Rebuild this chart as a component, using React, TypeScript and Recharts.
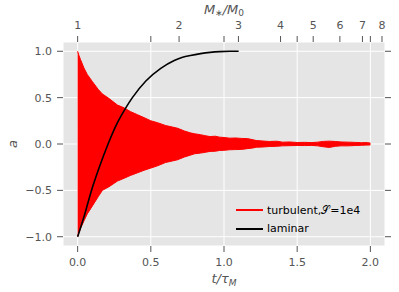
import React from 'react';
import { ComposedChart, Area, Line, XAxis, YAxis, CartesianGrid, Legend, Label } from 'recharts';

// turbulent run, S=1e4: envelope of the fast oscillation
const envT = [0, 0.01, 0.02, 0.043, 0.066, 0.1, 0.14, 0.169, 0.215, 0.272, 0.317, 0.36, 0.41, 0.46, 0.5, 0.546, 0.6, 0.683, 0.73, 0.77, 0.8, 0.84, 0.87, 0.905, 0.94, 0.97, 1.0, 1.04, 1.08, 1.12, 1.16, 1.2, 1.22, 1.26, 1.31, 1.36, 1.4, 1.45, 1.5, 1.55, 1.6, 1.64, 1.68, 1.72, 1.76, 1.8, 1.85, 1.9, 1.94, 1.97, 2.0];
const envHi = [1.0, 0.95, 0.91, 0.82, 0.75, 0.675, 0.59, 0.54, 0.49, 0.42, 0.39, 0.35, 0.315, 0.28, 0.25, 0.23, 0.2, 0.17, 0.14, 0.12, 0.11, 0.1, 0.09, 0.08, 0.084, 0.074, 0.07, 0.063, 0.065, 0.06, 0.058, 0.045, 0.038, 0.033, 0.027, 0.03, 0.02, 0.022, 0.016, 0.018, 0.015, 0.02, 0.028, 0.031, 0.027, 0.022, 0.02, 0.017, 0.014, 0.015, 0.01];
const envLo = [-1.0, -0.95, -0.91, -0.83, -0.754, -0.67, -0.57, -0.5, -0.46, -0.4, -0.37, -0.34, -0.31, -0.28, -0.26, -0.235, -0.2, -0.17, -0.14, -0.12, -0.105, -0.098, -0.09, -0.08, -0.078, -0.07, -0.068, -0.062, -0.06, -0.058, -0.05, -0.042, -0.035, -0.033, -0.027, -0.025, -0.02, -0.018, -0.016, -0.017, -0.015, -0.02, -0.03, -0.037, -0.025, -0.02, -0.02, -0.016, -0.014, -0.012, -0.01];

// laminar solution
const lamT = [0, 0.048, 0.089, 0.146, 0.208, 0.272, 0.329, 0.374, 0.466, 0.568, 0.66, 0.717, 0.77, 0.84, 0.905, 0.97, 1.04, 1.1];
const lamA = [-1, -0.76, -0.53, -0.26, 0.0, 0.23, 0.39, 0.5, 0.68, 0.815, 0.9, 0.935, 0.955, 0.975, 0.988, 0.996, 1.0, 1.0];

const seriesNames = ['turbulent,𝒮=1e4', 'laminar'];
const xTicks = [0, 0.5, 1.0, 1.5, 2.0];
const yTicks = [-1, -0.5, 0, 0.5, 1];
const massTicks = [1, 2, 3, 4, 5, 6, 7, 8]; // top axis, M*/M0 = exp(t/tau_M)

const envData = envT.map((t, i) => ({ t, range: [envLo[i], envHi[i]] }));
const lamData = lamT.map((t, i) => ({ t, a: lamA[i] }));
const topTicks = [...massTicks.map(m => Math.log(m)), 0.5, 1.0, 1.5, 2.0].sort((a, b) => a - b);

const GREY = '#555555';
const tickStyle = { fontSize: 11, fill: GREY, fontFamily: 'DejaVu Sans' };
const fmt = (v: number) => v.toFixed(1).replace('-', '\u2212');
const topFmt = (v: number) => {
  const m = massTicks.find(n => Math.abs(Math.log(n) - v) < 1e-9);
  return m === undefined ? '' : String(m);
};

const BottomTitle = ({ viewBox }: any) => (
  <text x={viewBox.x + viewBox.width / 2} y={viewBox.y + 37} textAnchor="middle" fill={GREY} fontSize={13} fontFamily="DejaVu Sans" fontStyle="italic">
    t/τ<tspan dy={3} fontSize={9}>M</tspan>
  </text>
);

const TopTitle = ({ viewBox }: any) => (
  <text x={viewBox.x + viewBox.width / 2} y={14} textAnchor="middle" fill={GREY} fontSize={13} fontFamily="DejaVu Sans" fontStyle="italic">
    M<tspan dy={2} fontSize={9} fontStyle="normal">∗</tspan>
    <tspan dy={-2}>/M</tspan>
    <tspan dy={2} fontSize={9} fontStyle="normal">0</tspan>
  </text>
);

const LeftTitle = ({ viewBox }: any) => {
  const cy = viewBox.y + viewBox.height / 2;
  return (
    <text x={12} y={cy} transform={`rotate(-90 12 ${cy})`} textAnchor="middle" dominantBaseline="central" fill={GREY} fontSize={13} fontFamily="DejaVu Sans" fontStyle="italic">
      a
    </text>
  );
};

const LegendBox = ({ payload }: any) => {
  const items = [...(payload || [])].sort((p: any, q: any) => seriesNames.indexOf(p.value) - seriesNames.indexOf(q.value));
  return (
    <div style={{ fontFamily: 'DejaVu Sans', fontSize: 11, color: '#000' }}>
      {items.map((p: any) => (
        <div key={p.value} style={{ display: 'flex', alignItems: 'center', height: 18.6 }}>
          <div style={{ width: 27, height: 2, background: p.color, marginRight: 4 }} />
          <span>{p.value}</span>
        </div>
      ))}
    </div>
  );
};

export default function App() {
  return (
    <div style={{ position: 'absolute', left: 0, top: 0 }}>
      <ComposedChart width={399} height={292} margin={{ top: 0, right: 0, bottom: 0, left: 0 }} style={{ fontFamily: 'DejaVu Sans' }}>
        <CartesianGrid stroke="#ffffff" strokeWidth={1} fill="#E5E5E5" />
        <XAxis dataKey="t" type="number" domain={[-0.1, 2.1]} allowDataOverflow ticks={xTicks} interval={0}
          tickFormatter={fmt} tick={tickStyle} height={46} axisLine={false}
          tickLine={{ stroke: GREY }} tickSize={6} tickMargin={6}>
          <Label content={BottomTitle} />
        </XAxis>
        <XAxis xAxisId="top" dataKey="t" orientation="top" type="number" domain={[-0.1, 2.1]} allowDataOverflow ticks={topTicks} interval={0}
          tickFormatter={topFmt} tick={tickStyle} height={42} axisLine={false}
          tickLine={{ stroke: GREY }} tickSize={6} tickMargin={7}>
          <Label content={TopTitle} />
        </XAxis>
        <YAxis type="number" domain={[-1.1, 1.1]} allowDataOverflow ticks={yTicks} interval={0}
          tickFormatter={fmt} tick={tickStyle} width={63} axisLine={false}
          tickLine={{ stroke: GREY }} tickSize={6} tickMargin={5}>
          <Label content={LeftTitle} />
        </YAxis>
        <YAxis yAxisId="right" orientation="right" type="number" domain={[-1.1, 1.1]} allowDataOverflow ticks={yTicks} interval={0}
          tickFormatter={() => ''} width={14} axisLine={false} tickLine={{ stroke: GREY }} tickSize={6} />
        <Area data={envData} dataKey="range" name={seriesNames[0]} type="linear" stroke="#ff0000" strokeWidth={1}
          fill="#ff0000" fillOpacity={1} isAnimationActive={false} />
        <Line data={lamData} xAxisId="top" yAxisId="right" dataKey="a" name={seriesNames[1]} type="monotone" stroke="#000000" strokeWidth={1.6}
          dot={false} isAnimationActive={false} />
        <Legend layout="vertical" align="center" verticalAlign="middle"
          wrapperStyle={{ left: 236, top: 201, width: 150 }} content={LegendBox} />
      </ComposedChart>
    </div>
  );
}
